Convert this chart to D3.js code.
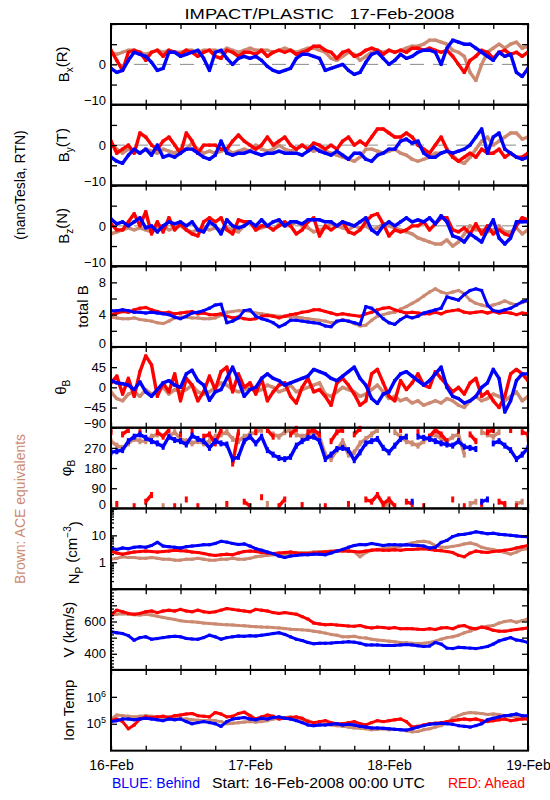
<!DOCTYPE html>
<html><head><meta charset="utf-8">
<script src="https://cdn.jsdelivr.net/npm/d3@7"></script>
<style>
body{margin:0;background:#fff}
svg{display:block}
text{font-family:"Liberation Sans",Arial,sans-serif;fill:#000}
</style>
</head><body>
<svg id="c" width="550" height="800"></svg>
<script>
// ---------------- DATA (hourly samples, 16-Feb-2008 00:00 .. 19-Feb-2008 00:00 UTC) ----------------
const hours = d3.range(0, 73);

// Bx (R), nT
const bxBehind = [-1,-2,-1.5,1,3,2.5,2,0.5,-1.5,-1,3,3, 2,2.5,3,3.5,1.5,-1.5,3,3.5,1.5,0,1.5,2, 1.5,2,1,-0.5,-1.5,-2,-1.5,-1,1.5,2.5,2.5,2, 1.5,-1.5,-1,-0.5,0,-1.5,-2.5,-2,0.5,2.5,3,1.5, 0,1,2.5,1.5,2,3,3.5,3.5,3,0,4,6, 5.5,5,5,4,3,2,1,3,2,2.5,-2,-3, -1];
const bxAhead  = [3.5,1,-1.5,3,3.5,3,1,3,3.5,2,3.5,3, 2.5,3.5,3,2,3,3.5,2,1.5,3.5,3,2,3, 3,2.5,3.5,2,3,3.5,3,3.5,2.5,3,3.5,4.5, 4.5,3.5,3,1.5,3,3.5,2,2.5,3.5,4,3.5,2.5, 3.5,3,3.5,3,4,4,3.5,4,3.5,3,3.5,2, 0,-2,1,2,3.5,3,1.5,3,3.5,2.5,3,2, 3];
const bxACE    = [3,2.5,3,3.5,3.5,3,2.5,3,3.5,3,3.5,3, 3,3.5,3.5,3,3.5,3.5,3.5,3,4,3.5,3,3.5, 4,3.5,3.5,3.5,3,3.5,4,3.5,3,3.5,4,4, 3.5,3,1.5,1,2,3,2.5,1,2,3,3.5,3, 3.5,3,3.5,4,4.5,4.5,5,6,6,5.5,5,3.5, 3,2,-2,-4,0,3,4,5,4,5,5.5,4, 4.5];

// By (T), nT
const byBehind = [-3,-4,-4.5,-2.5,-1,-2,-1,-2.5,0,-3,-2.5,-3, -2,-1,-1,-2,-3,-3.5,-2.5,1,-2,-2.5,-2,-2, -1.5,-2,-2.5,-2,-2,-1.5,-2,-2,-2,-2.5,-1.5,-0.5, -1.5,-2,-2.5,-1.5,-2.5,-3.5,-2,-2,-3.5,-4,-2.5,-2, -1,-1,1,1.5,0.5,1,-2,-3,-3,-2,-1.5,-2, -1.5,-1,0,2,4,-2,2,3,-1,-2,-3,-3.5, -3];
const byAhead  = [1,-2,-1,0,-2,3,2,0,-1,1,2,0, -2,3,1,-2,0,0,0,-1,-1,1,2.5,1, 0,-1,0,2,0,1,2,0,-1,0,-1,0.5, 0,-1,0,-1,1,2,0,1,0,2,4,4, 3,2,2,3,2,0,-1,-2,0,2,-1,-3, -4,-3,-2,-3,-1,-2,-2,-1,-3,-2,-3,-3, -2];
const byACE    = [0,-1,-2,-1,-1.5,-2,-1,-1.5,-2,-1,-1.5,-2, -1,-1,0.5,-1,-2,-1.5,-2,-1.5,-1,-2,-1.5,-1, -1.5,0,-1,-1.5,-1,0,-1,-1.5,-1,0,-1,-1.5, -1,-1.5,-2,-2.5,-3,-3.5,-4,-3,-1,-1,-1.5,-2, -1.5,-1,-2,-2.5,-3.5,-4,-3.5,-3,-2,-2,-1.5,-2.5, -4,-4.5,-3,-1,1,2,0,1,2,3,3,1.5, 2];

// Bz (N), nT
const bzBehind = [1.7,0.5,1,0,1,2,-0.5,0,-1.5,0,1,0.5, 1,0,1,-1,-1.5,1,0,-2,1.5,0,-0.5,0, 1,0,1.5,0,1,1.5,0,1,1,0.5,1.5,1.5, 1.5,1,1,0,1,0.5,0,1,2,-1,-2,0, 1,0,1,2,1,1.5,1,2,0.5,2.5,1,-2.5, -3,-4,-2,-3,-4,-1,1.5,-3,-4.5,-3,1,1, 1];
const bzAhead  = [0.5,-1,-1,1,3,0,3.5,-2,1,-1.5,2,-1, 0.5,-1,-2,-2.5,1,2,1,2,-1,-2,1.5,1, 1,-1,0,0,-1,0,1,0,-2,-1,1,2, -2.5,0,-1,0,1,-1.5,-2,-1,1,2.5,3,0.5, -2.5,-1,-1.5,-1,0,0,1,-1,0.5,2,2,-1, -1.5,-0.5,-2,0.5,-2,0,-2,-1,-2,-2.5,0,2, 1.5];
const bzACE    = [-2,-1.5,-1,-0.5,-1,-0.5,-1,-1.5,-0.5,0,-1,-0.5, 0,-1,-1.5,-1,-0.5,-1,-0.5,-1,-0.5,-1,-1.5,0, 1,-1,-0.5,0,-1,0.5,0,0,1,0,-0.5,-1.5, -1,-0.5,0.5,0,-0.5,-1,0,-0.5,0,-1,-0.5,0.5, 0,-0.5,-1,-1.5,-2,-3,-3.5,-4,-4.5,-4.5,-3.5,-5, -4,-2,0,-1,-1,-1.5,-1,0,-1.5,-1.5,-0.5,-2, -1];

// total B, nT
const btBehind = [4.5,4.5,4.6,4.5,4.3,4.3,4.2,4.3,4.2,4.1,4.0,3.7, 3.5,3.8,4.2,4.3,4.5,4.8,5.2,5.3,3.0,3.2,3.6,4.5, 4.6,3.8,3.5,3.3,3.0,2.5,2.8,3.3,3.3,3.2,3.1,3.0, 2.9,2.6,2.5,3.2,3.3,3.2,3.0,2.8,5.0,4.8,4.2,3.5, 3.0,2.8,3.4,3.8,3.6,3.8,4.2,4.4,4.6,4.8,6.2,6.0, 5.8,6.5,7.0,7.2,7.0,5.2,4.5,4.4,4.6,4.8,5.2,5.6, 5.8];
const btAhead  = [4.0,4.2,4.4,4.3,4.6,4.8,4.9,4.6,4.4,4.2,4.3,4.1, 4.2,4.3,4.4,4.1,4.2,4.0,4.0,4.1,3.8,3.6,3.7,3.5, 3.4,3.5,3.8,3.9,3.8,3.6,3.8,4.0,4.1,4.3,4.4,4.6, 4.6,4.4,4.2,4.0,4.1,4.0,3.9,3.8,4.1,4.3,4.6,4.8, 4.9,4.6,4.4,4.2,4.3,4.2,4.1,4.1,4.3,4.1,4.4,4.5, 4.6,4.3,4.2,4.3,4.4,4.2,4.4,4.2,4.3,4.2,4.0,4.2, 4.1];
const btACE    = [3.7,3.6,3.5,3.5,3.6,3.4,3.3,3.2,3.0,2.9,3.2,3.6, 3.7,3.7,3.6,3.6,3.5,3.5,3.6,3.9,4.3,4.4,4.5,4.5, 4.4,4.2,4.1,4.0,3.9,3.8,3.8,3.7,3.7,3.6,3.5,3.4, 3.3,3.2,3.0,3.1,3.4,3.2,2.9,2.6,2.7,3.3,3.8,4.0, 4.2,4.3,4.7,5.0,5.4,5.8,6.3,6.8,7.2,6.8,6.6,6.8, 7.0,6.6,5.8,5.4,5.2,5.0,5.2,5.4,5.7,5.4,5.2,5.5, 5.7];

// theta_B, degrees
const thBehind = [15,10,8,5,-5,12,-10,-20,-5,10,15,5, 0,30,38,15,5,-29,-10,-5,20,45,15,-20, -5,0,20,30,20,15,5,10,15,20,25,40, 35,30,20,15,25,35,45,20,5,-25,-36,-15, -10,15,30,35,25,15,5,15,30,45,0,-20, -25,-35,-30,-20,0,10,40,20,-55,-30,15,30, 30];
const thAhead  = [10,25,-15,20,-20,35,70,50,-20,10,-10,30, -30,20,5,-30,-10,25,-5,35,45,-10,30,0, 10,-15,20,-30,-10,5,10,-20,-35,0,20,-10, -5,-20,-40,10,20,5,-15,-40,-30,30,40,10, -20,-30,15,-5,10,30,5,0,35,20,5,-10, 0,-15,10,20,-20,-10,-30,-45,-20,30,40,30, 15];
const thACE    = [-10,-25,-30,-15,-10,-20,-5,-15,-10,0,-15,-5, -10,-5,5,-10,-15,-10,0,10,5,-5,-10,-5, 0,-10,-5,5,0,-10,-5,5,-10,-5,0,5, 10,-15,-20,-10,0,-5,-10,-20,-15,-5,5,-10, -25,-20,-30,-25,-35,-30,-40,-35,-30,-35,-25,-30, -40,-45,-30,-20,-30,-25,-15,-20,-30,-20,-10,-30, -20];

// phi_B, degrees
const phBehind = [250,255,260,300,320,330,315,300,290,275,320,305, 300,285,325,310,300,270,300,290,285,220,230,300, 320,290,320,260,240,225,220,230,280,300,315,320, 300,220,240,265,270,260,215,250,290,300,310,270, 250,280,310,320,30,320,315,310,300,290,285,280, 300,275,270,265,30,40,290,300,280,260,220,240, 270];
const phAhead  = [340,20,330,350,10,340,30,60,340,320,350,10, 330,40,345,10,320,330,290,350,20,200,340,30, 10,340,50,350,320,10,40,330,355,15,340,350, 330,10,300,340,350,20,330,355,40,30,60,20, 40,10,350,30,20,340,10,320,350,330,300,40, 345,10,330,300,20,340,350,30,20,350,10,340, 330];
const phACE    = [300,280,270,290,310,300,300,320,330,10,320,340, 310,300,290,300,290,300,320,330,340,310,300,320, 330,340,350,20,330,320,340,350,330,320,330,340, 320,240,220,260,300,240,250,290,310,330,350,10, 20,340,320,300,290,280,300,320,330,310,300,320, 330,240,20,30,340,330,320,340,10,350,20,30, 310];

// proton density, cm^-3
const npBehind = [3.3,3.0,3.4,3.2,3.6,3.8,3.6,4.2,5.5,4.0,3.8,3.6, 3.4,3.8,4.0,4.2,4.5,4.5,5.0,6.0,5.6,5.0,4.6,4.8, 4.0,3.2,2.8,2.4,2.1,1.7,1.5,1.7,1.8,1.9,1.9,2.0, 2.0,1.9,2.2,2.6,3.0,3.6,4.2,4.6,4.5,5.0,4.6,4.2, 4.5,4.5,4.4,4.5,4.3,4.2,4.0,3.4,3.6,5.5,6.5,9.0, 10.5,11.0,12.0,13.5,12.5,11.5,12.0,11.0,10.5,10.0,9.5,9.0, 8.8];
const npAhead  = [2.5,2.2,2.0,2.2,2.4,2.5,2.6,2.5,2.4,2.5,2.6,2.8, 2.7,2.6,2.4,2.3,2.1,1.9,1.8,1.9,2.0,1.9,2.2,2.5, 2.6,2.5,2.3,2.2,2.1,2.2,2.3,2.4,2.2,2.1,2.1,2.2, 2.3,2.4,2.5,2.6,2.7,2.6,2.5,2.4,2.6,2.8,2.9,2.8, 2.8,2.9,2.8,3.0,3.0,3.1,3.2,3.0,2.8,2.7,2.5,2.3, 1.8,1.6,2.2,2.6,2.4,2.3,2.5,2.6,2.8,3.0,3.4,3.8, 4.2];
const npACE    = [1.3,1.4,1.6,1.5,1.5,1.4,1.4,1.5,1.4,1.3,1.3,1.2, 1.2,1.3,1.3,1.4,1.3,1.2,1.2,1.3,1.3,1.4,1.3,1.3, 1.4,1.6,1.7,1.8,1.9,2.0,2.0,2.1,2.2,2.3,2.3,2.4, 2.5,2.5,2.6,2.6,2.7,2.6,2.5,1.6,2.3,2.8,3.0,3.2, 3.4,3.6,4.0,4.6,5.2,5.8,6.0,5.5,4.2,3.6,3.6,3.9, 4.2,4.8,5.2,4.6,3.6,3.2,3.0,2.6,2.3,2.0,2.4,3.0, 3.2];

// bulk speed, km/s
const vBehind = [536,530,525,512,484,500,505,490,494,500,505,508, 505,495,492,490,500,515,505,490,500,505,510,508, 512,510,515,520,525,530,520,505,490,482,470,462, 465,465,466,470,472,475,472,465,455,455,455,452, 452,452,455,458,455,450,445,448,470,460,435,432, 440,438,435,432,438,445,460,480,490,500,485,480, 470];
const vAhead  = [640,670,660,650,645,650,660,665,655,665,670,665, 675,665,660,670,660,655,660,670,680,675,670,665, 660,675,670,665,655,650,655,650,645,630,615,590, 585,580,582,578,575,572,570,575,565,560,565,562, 558,562,555,556,555,552,550,555,550,560,562,555, 570,575,560,555,565,558,545,540,540,545,550,555, 560];
const vACE    = [640,645,648,645,642,640,645,640,632,625,618,612, 605,600,598,595,590,588,585,582,580,578,575,573, 570,568,566,565,562,560,556,552,550,548,545,540, 535,528,520,515,505,505,508,500,498,490,485,482, 478,474,470,468,465,463,465,470,478,490,500,505, 515,530,540,555,565,570,575,590,600,605,595,605, 615];

// ion temperature, units of 1e5 K
const tBehind = [1.2,1.3,1.5,1.5,1.4,1.5,1.6,1.5,1.4,1.3,1.5,1.4, 1.5,1.2,1.0,1.1,1.2,1.1,1.0,0.8,1.2,1.5,1.6,1.7, 1.5,1.4,1.6,1.5,1.7,1.8,1.6,1.5,1.3,1.1,0.9,0.85, 0.9,0.9,0.95,1.0,0.9,0.95,0.9,0.8,0.75,0.7,0.7,0.68, 0.65,0.62,0.6,0.58,0.65,0.75,0.85,0.95,1.0,1.05,1.0,0.95, 0.85,0.8,0.75,0.85,1.0,1.4,1.6,1.8,2.0,2.1,2.3,2.0, 2.0];
const tAhead  = [1.3,1.5,1.2,0.65,0.9,1.5,1.8,1.7,1.8,1.9,1.7,2.0, 2.1,2.3,2.4,2.0,1.9,1.8,2.6,2.3,1.8,1.9,2.4,2.7, 2.0,1.5,1.8,2.1,1.9,1.5,1.6,1.7,1.8,1.6,1.2,1.1, 1.2,1.3,1.1,1.0,1.0,1.1,1.2,1.0,0.9,1.1,1.3,1.2, 1.3,1.4,1.5,1.2,0.75,0.8,0.9,1.0,1.05,1.1,1.2,1.3, 1.4,1.5,1.4,1.5,1.3,1.2,1.3,1.4,1.5,1.3,1.4,1.5, 1.5];
const tACE    = [1.5,2.1,2.0,1.9,1.8,1.9,2.0,1.9,1.8,1.7,1.8,1.7, 1.55,1.5,1.4,1.35,1.3,1.35,1.3,1.2,1.0,1.05,1.1,1.15, 1.2,1.15,1.2,1.3,1.5,1.6,1.7,1.8,1.6,1.4,1.3,1.1, 1.0,0.95,0.9,0.85,0.8,0.75,0.7,0.68,0.65,0.6,0.62,0.65, 0.6,0.62,0.6,0.55,0.5,0.52,0.6,0.65,0.75,0.85,1.1,1.6, 2.0,2.4,2.6,2.5,2.4,2.2,2.3,2.2,2.0,1.9,1.8,1.6, 1.55];

// axis ticks / labels
const dayLabels = ["16-Feb","17-Feb","18-Feb","19-Feb"];
const bTicks = [-10,-5,0,5,10], bLabels = {"-10":"\u221210","0":"0"};
const btTicks = [0,2,4,6,8,10], btLabels = {"0":"0","4":"4","8":"8"};
const thTicks = [-90,-45,0,45,90], thLabels = {"-90":"\u221290","-45":"\u221245","0":"0","45":"45"};
const phTicks = [0,90,180,270,360], phLabels = {"0":"0","90":"90","180":"180","270":"270"};
const npTicks = [0.1,1,10,100], npLabels = {"1":"1","10":"10"};
const vTicks = [400,500,600,700], vLabels = {"400":"400","600":"600"};
const tTicks = [1,10], tLabels = {"1":["10","5"],"10":["10","6"]};

// ---------------- LAYOUT ----------------
const X0 = 111, X1 = 528, TOP = 24, PH = 80.74;
const COL = {ace:"#cc8a72", ahead:"#ff0000", behind:"#0000ff"};
const svg = d3.select("#c");
const t0 = new Date(Date.UTC(2008,1,16)), t1 = new Date(Date.UTC(2008,1,19));
const x = d3.scaleUtc().domain([t0,t1]).range([X0,X1]);
const times = hours.map(h => new Date(Date.UTC(2008,1,16,h)));

const panels = [
  {title:[["B"],["x","sub"],["(R)"]], tx:69, dy:0, data:[bxACE,bxAhead,bxBehind], dom:[-10,10], ticks:bTicks, labels:bLabels, zero:true, sw:3.4},
  {title:[["B"],["y","sub"],["(T)"]], tx:69, dy:0, data:[byACE,byAhead,byBehind], dom:[-10,10], ticks:bTicks, labels:bLabels, zero:true, sw:3.4},
  {title:[["B"],["z","sub"],["(N)"]], tx:69, dy:0, data:[bzACE,bzAhead,bzBehind], dom:[-10,10], ticks:bTicks, labels:bLabels, zero:true, sw:3.4},
  {title:[["total B"]], tx:88, dy:0, data:[btACE,btAhead,btBehind], dom:[0,10], ticks:btTicks, labels:btLabels, sw:3},
  {title:[["\u03b8"],["B","sub"]], tx:66, dy:0, data:[thACE,thAhead,thBehind], dom:[-90,90], ticks:thTicks, labels:thLabels, sw:3.4},
  {title:[["\u03c6"],["B","sub"]], tx:71, dy:0, data:[phACE,phAhead,phBehind], dom:[0,360], ticks:phTicks, labels:phLabels, wrap:true, sw:3.4},
  {title:[["N"],["P","sub"],[" (cm"],["\u22123","sup"],[")"]], tx:79, dy:4, data:[npACE,npAhead,npBehind], dom:[0.1,100], log:true, ticks:npTicks, labels:npLabels,
     minor:[0.2,0.3,0.4,0.5,0.6,0.7,0.8,0.9,2,3,4,5,6,7,8,9,20,30,40,50,60,70,80,90], sw:3},
  {title:[["V (km/s)"]], tx:74, dy:0, data:[vACE,vAhead,vBehind], dom:[300,800], ticks:vTicks, labels:vLabels,
     minor:d3.range(320,800,20).filter(v=>v%100!==0), sw:3},
  {title:[["Ion Temp"]], tx:74, dy:0, data:[tACE,tAhead,tBehind], dom:[0.1,100], log:true, ticks:tTicks, labels:tLabels, sup:true, sw:3}
];
const colors = [COL.ace, COL.ahead, COL.behind];

function segments(vals, limit){
  const segs=[]; let cur=[];
  vals.forEach((v,i)=>{
    if(cur.length && Math.abs(v - vals[i-1]) > limit){ segs.push(cur); cur=[]; }
    cur.push(i);
  });
  if(cur.length) segs.push(cur);
  return segs;
}

svg.append("defs").append("clipPath").attr("id","plotclip")
  .append("rect").attr("x",X0).attr("y",TOP).attr("width",X1-X0).attr("height",PH*9);

panels.forEach((p,i)=>{
  const y0 = TOP + i*PH, y1 = y0 + PH;
  const y = (p.log ? d3.scaleLog() : d3.scaleLinear()).domain(p.dom).range([y1,y0]);
  const g = svg.append("g");
  const pg = g.append("g").attr("clip-path","url(#plotclip)");

  if(p.zero){
    pg.append("line").attr("x1",X0).attr("x2",X1).attr("y1",y(0)).attr("y2",y(0))
      .attr("stroke","#888").attr("stroke-width",1).attr("stroke-dasharray","14,9");
  }
  p.data.forEach((vals,k)=>{
    const line = d3.line().x(j=>x(times[j])).y(j=>y(vals[j]));
    const segs = p.wrap ? segments(vals,150) : [hours];
    segs.forEach(s=>{
      if(s.length>1) pg.append("path").attr("d",line(s)).attr("fill","none")
        .attr("stroke",colors[k]).attr("stroke-width",p.sw).attr("stroke-linejoin","round");
    });
    pg.selectAll(null).data(hours).enter().append("rect")
      .attr("x",j=>x(times[j])-1.5).attr("y",j=>y(vals[j])-(p.wrap?3:1.5))
      .attr("width",3).attr("height",p.wrap?6:3).attr("fill",colors[k]);
  });

  // y axes (left with labels, right without)
  const fmt = d => { const l = p.labels[String(d)]; return (l===undefined || p.sup) ? "" : l; };
  const ax = g.append("g").attr("transform",`translate(${X0},0)`)
    .call(d3.axisLeft(y).tickValues(p.ticks).tickSize(-6).tickPadding(5).tickFormat(fmt));
  ax.selectAll("text").attr("font-size","13px").attr("font-family","Liberation Sans, Arial, sans-serif")
    .attr("y", d => Math.abs(y(d)-y1)<1 ? -4 : 0);
  if(p.sup){
    ax.selectAll("text").each(function(d){
      const l = p.labels[String(d)]; if(!l) return;
      const t = d3.select(this);
      t.append("tspan").text(l[0]);
      t.append("tspan").attr("dy","-0.55em").attr("font-size","9px").text(l[1]);
    });
  }
  g.append("g").attr("transform",`translate(${X1},0)`)
    .call(d3.axisRight(y).tickValues(p.ticks).tickSize(-6).tickFormat(""));
  if(p.minor){
    g.append("g").attr("transform",`translate(${X0},0)`)
      .call(d3.axisLeft(y).tickValues(p.minor).tickSize(-3).tickFormat(""));
  }
  // time ticks top & bottom
  const xt = d3.utcHour.every(6);
  const bot = g.append("g").attr("transform",`translate(0,${y1})`)
    .call(d3.axisBottom(x).ticks(xt).tickSize(-5).tickPadding(9)
      .tickFormat(d => (i===8 && d.getUTCHours()===0) ? dayLabels[d3.utcDay.count(t0,d)] : ""));
  bot.selectAll("text").attr("font-size","14px").attr("font-family","Liberation Sans, Arial, sans-serif");
  g.append("g").attr("transform",`translate(0,${y0})`)
    .call(d3.axisTop(x).ticks(xt).tickSize(-5).tickFormat(""));
  g.selectAll(".domain").remove();
  g.selectAll(".tick line").attr("stroke","#000").attr("stroke-width",1.3);

  g.append("rect").attr("x",X0).attr("y",y0).attr("width",X1-X0).attr("height",PH)
    .attr("fill","none").attr("stroke","#000").attr("stroke-width",2);

  // title
  const tt = svg.append("text").attr("transform",`translate(${p.tx},${(y0+y1)/2+p.dy}) rotate(-90)`)
    .attr("text-anchor","middle").attr("font-size","15px").style("white-space","pre");
  p.title.forEach(([s,kind])=>{
    const ts = tt.append("tspan").text(s);
    if(kind==="sub"){ ts.attr("dy","0.35em").attr("font-size","10px"); }
    else if(kind==="sup"){ ts.attr("dy","-0.6em").attr("font-size","10px"); }
  });
  tt.selectAll("tspan").each(function(d,j){
    if(j>0){
      const prev = p.title[j-1][1], cur = p.title[j][1];
      if(!cur && prev==="sub") d3.select(this).attr("dy","-0.35em");
      if(!cur && prev==="sup") d3.select(this).attr("dy","0.6em");
    }
  });
});

// title & side/bottom annotations
svg.append("text").attr("x",(X0+X1)/2).attr("y",19).attr("text-anchor","middle")
  .attr("font-size","15px").style("white-space","pre").attr("textLength",270).attr("lengthAdjust","spacingAndGlyphs")
  .text("IMPACT/PLASTIC   17-Feb-2008");
svg.append("text").attr("transform","translate(25,185) rotate(-90)").attr("text-anchor","middle")
  .attr("font-size","14px").text("(nanoTesla, RTN)");
svg.append("text").attr("transform","translate(25,509) rotate(-90)").attr("text-anchor","middle")
  .attr("font-size","14px").style("fill",COL.ace).text("Brown: ACE equivalents");
svg.append("text").attr("x",112).attr("y",788).attr("font-size","14px").style("fill",COL.behind).text("BLUE: Behind");
svg.append("text").attr("x",212).attr("y",788).attr("font-size","14px").attr("textLength",213).attr("lengthAdjust","spacingAndGlyphs")
  .text("Start: 16-Feb-2008 00:00 UTC");
svg.append("text").attr("x",525).attr("y",788).attr("text-anchor","end").attr("font-size","14px").style("fill",COL.ahead).text("RED: Ahead");
</script>
</body></html>
